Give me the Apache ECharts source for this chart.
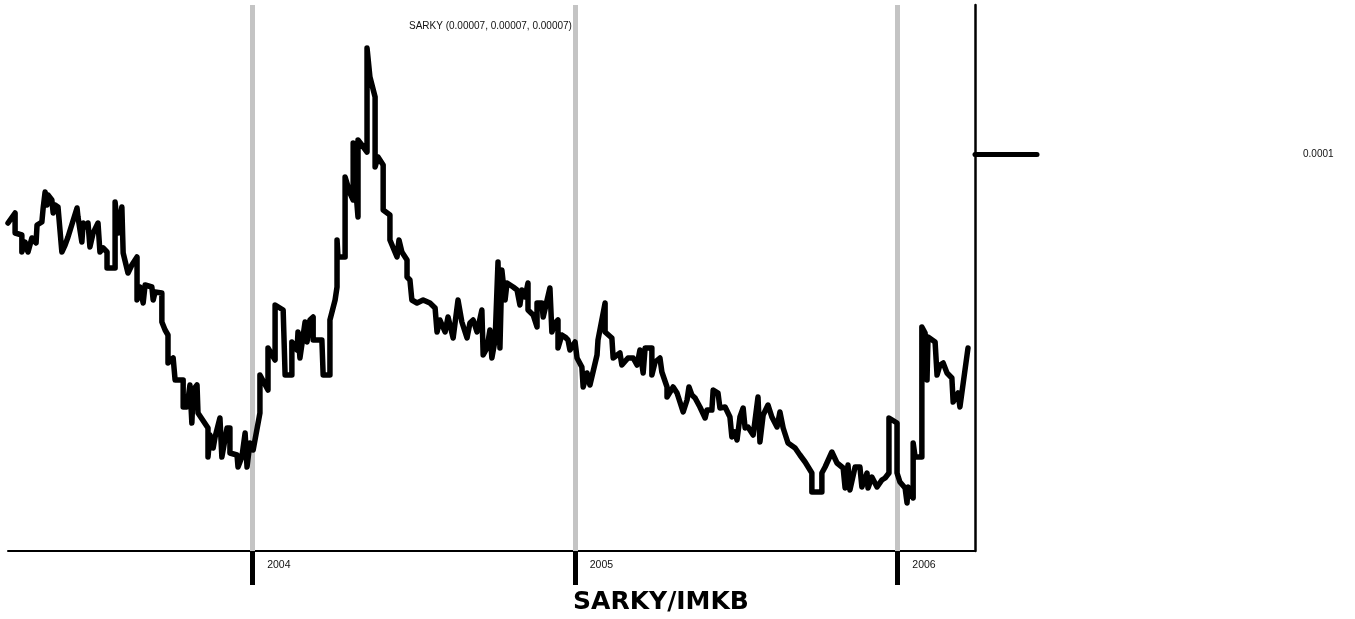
<!DOCTYPE html>
<html><head><meta charset="utf-8">
<script src="https://cdn.jsdelivr.net/npm/echarts@6/dist/echarts.min.js"></script>
<style>html,body{margin:0;padding:0;background:#fff}#c{width:1355px;height:619px}</style>
</head><body><div id="c"></div>
<script>
// ---- data ----
const titleText = 'SARKY (0.00007, 0.00007, 0.00007)';
const footerText = 'SARKY/IMKB';
const yearTicks = [2004, 2005, 2006];
const priceTicks = [0.0001];
const priceTickLabels = ['0.0001'];
const xMin = 2003.243, xMax = 2006.2407;   // date range shown (decimal years)
const yMin = 0.00004045, yMax = 0.00012235; // price range shown
const priceUnit = 1e-7;                     // prices below are in units of 1e-7

// dates of the line's vertices, as decimal years
const dates = [
2003.243,2003.265,2003.265,2003.286,2003.286,2003.296,2003.305,2003.317,2003.330,2003.333,
2003.348,2003.352,2003.358,2003.364,2003.367,2003.379,2003.383,2003.389,2003.398,2003.410,
2003.420,2003.429,2003.457,2003.460,2003.472,2003.476,2003.488,2003.491,2003.497,2003.507,
2003.522,2003.528,2003.538,2003.550,2003.550,2003.575,2003.575,2003.584,2003.596,2003.600,
2003.615,2003.627,2003.643,2003.643,2003.652,2003.662,2003.668,2003.689,2003.693,2003.699,
2003.720,2003.720,2003.730,2003.739,2003.739,2003.755,2003.761,2003.786,2003.786,2003.798,
2003.807,2003.813,2003.817,2003.829,2003.832,2003.863,2003.863,2003.869,2003.879,2003.885,
2003.900,2003.906,2003.922,2003.931,2003.931,2003.953,2003.956,2003.968,2003.978,2003.984,
2003.993,2004.003,2004.024,2004.024,2004.049,2004.049,2004.071,2004.071,2004.096,2004.102,
2004.123,2004.123,2004.139,2004.142,2004.148,2004.164,2004.170,2004.179,2004.189,2004.189,
2004.216,2004.220,2004.241,2004.241,2004.257,2004.263,2004.263,2004.266,2004.288,2004.288,
2004.303,2004.313,2004.313,2004.322,2004.328,2004.328,2004.340,2004.356,2004.356,2004.365,
2004.381,2004.381,2004.390,2004.406,2004.406,2004.427,2004.427,2004.449,2004.455,2004.464,
2004.480,2004.480,2004.489,2004.495,2004.511,2004.530,2004.551,2004.567,2004.573,2004.582,
2004.598,2004.607,2004.623,2004.638,2004.650,2004.666,2004.675,2004.685,2004.697,2004.712,
2004.716,2004.728,2004.737,2004.743,2004.753,2004.762,2004.768,2004.774,2004.784,2004.790,
2004.809,2004.821,2004.830,2004.836,2004.846,2004.855,2004.855,2004.871,2004.883,2004.883,
2004.898,2004.902,2004.923,2004.929,2004.939,2004.948,2004.948,2004.960,2004.970,2004.979,
2004.985,2005.001,2005.007,2005.022,2005.026,2005.038,2005.047,2005.069,2005.072,2005.094,
2005.094,2005.115,2005.119,2005.140,2005.146,2005.165,2005.181,2005.193,2005.202,2005.212,
2005.218,2005.239,2005.239,2005.249,2005.264,2005.270,2005.286,2005.286,2005.305,2005.317,
2005.336,2005.348,2005.354,2005.363,2005.373,2005.388,2005.404,2005.410,2005.425,2005.429,
2005.444,2005.450,2005.466,2005.481,2005.487,2005.497,2005.503,2005.512,2005.522,2005.528,
2005.537,2005.553,2005.568,2005.574,2005.584,2005.599,2005.611,2005.627,2005.636,2005.646,
2005.661,2005.683,2005.698,2005.714,2005.735,2005.735,2005.766,2005.766,2005.776,2005.797,
2005.813,2005.832,2005.838,2005.847,2005.853,2005.869,2005.884,2005.890,2005.906,2005.909,
2005.921,2005.937,2005.952,2005.962,2005.974,2005.974,2005.999,2005.999,2006.008,2006.024,
2006.030,2006.033,2006.049,2006.049,2006.055,2006.076,2006.076,2006.086,2006.092,2006.095,
2006.117,2006.123,2006.132,2006.142,2006.154,2006.169,2006.173,2006.188,2006.194,2006.219
];

// SARKY/IMKB ratio at those dates, in units of 1e-7
const prices = [
896.5,911.5,881.5,878.5,853,868,853,874,866.5,893.5,
898,919,943,923.5,938.5,931,911.5,923.5,920.5,853,
863.5,875.5,919,905.5,868,896.5,890.5,896.5,860.5,881.5,
896.5,853,859,853,829,829,928,881.5,920.5,851.5,
821.5,833.5,845.5,781,800.5,776.5,803.5,800.5,781,793,
791.5,748,736,728.5,686.5,694,661,661,620.5,620.5,
653.5,596.5,646,653.5,611.5,589,545.5,578.5,559,575.5,
604,545.5,589,589,551.5,548.5,530.5,545.5,581.5,530.5,
566.5,556,611.5,668.5,646,709,691,773.5,766,668.5,
668.5,718,706,733,694,748,718,751,755.5,721,
721,668.5,668.5,751,781,800.5,871,845.5,845.5,965.5,
941.5,931,1016.5,941.5,905.5,1021,1013.5,1003,1159,1115.5,
1085.5,980.5,995.5,983.5,916,908.5,871,845.5,871,853,
841,815.5,811,781,776.5,781,776.5,769,733,751,
733,755.5,724,781,748,724,746.5,751,733,766,
698.5,709,736,694,721,838,709,826,781,806.5,
800.5,796,773.5,796,785.5,806.5,766,758.5,740.5,776.5,
776.5,755.5,799,733,746.5,751,709,728.5,725.5,721,
706,718,694,680.5,650.5,671.5,653.5,698.5,721,776.5,
733,724,694,701.5,683.5,694,694,683.5,706,671.5,
709,709,668.5,688,694,673,650.5,635.5,650.5,641.5,
613,631,650.5,638.5,634,620.5,604,616,616,646,
641.5,619,620.5,605.5,575.5,583,571,605.5,619,589,
590.5,578.5,635.5,568,608.5,623.5,605.5,590.5,613,589,
566.5,559,548.5,538,521.5,493,493,521.5,530.5,553,
536.5,529,499,533.5,496,530.5,530.5,500.5,521.5,499,
515.5,500.5,511,514,521.5,604,596.5,521.5,508,499,
476.5,500.5,484,566.5,545.5,545.5,740.5,731.5,661,725.5,
718,668.5,683.5,686.5,671.5,664,628,641.5,620.5,709
];

// ---- chart ----
const chart = echarts.init(document.getElementById('c'), null, {renderer: 'canvas'});
const lineData = dates.map((d, i) => [d, prices[i] * priceUnit]);

const option = {
  animation: false,
  backgroundColor: '#ffffff',
  grid: {left: 8, right: 380, top: 5, bottom: 68, containLabel: false},
  title: {
    text: titleText, left: 409, top: 21, padding: 0,
    textStyle: {fontFamily: '"Liberation Sans", Arial, sans-serif', fontSize: 10, fontWeight: 'normal', color: '#111'}
  },
  graphic: [{
    type: 'text', x: 661, y: 602, silent: true,
    style: {text: footerText, font: 'bold 25px "DejaVu Sans", Verdana, sans-serif', fill: '#000',
            textAlign: 'center', textVerticalAlign: 'middle'}
  }],
  xAxis: {
    type: 'value', min: xMin, max: xMax, position: 'bottom',
    axisLine: {show: true, onZero: false, lineStyle: {color: '#000', width: 2}},
    axisTick: {show: true, customValues: yearTicks, length: 34, lineStyle: {color: '#000', width: 5}},
    axisLabel: {show: true, customValues: yearTicks, formatter: v => String(Math.round(v)),
      align: 'left', verticalAlign: 'top', margin: 9, padding: [0, 0, 0, 15],
      fontFamily: '"Liberation Sans", Arial, sans-serif', fontSize: 10.5, color: '#111'},
    splitLine: {show: false}
  },
  yAxis: {
    type: 'value', position: 'right', min: yMin, max: yMax,
    axisLine: {show: true, onZero: false, lineStyle: {color: '#000', width: 2.5}},
    axisTick: {show: true, customValues: priceTicks, length: 62, lineStyle: {color: '#000', width: 5, cap: 'round'}},
    axisLabel: {show: true, customValues: priceTicks, formatter: (v) => priceTickLabels[0],
      align: 'left', margin: 328, fontFamily: '"Liberation Sans", Arial, sans-serif', fontSize: 10, color: '#111'},
    splitLine: {show: false}
  },
  series: [
    {
      type: 'line', data: [], z: 1, silent: true,
      markLine: {
        silent: true, symbol: 'none', animation: false, z: 1,
        label: {show: false},
        lineStyle: {color: '#c4c4c4', width: 5, type: 'solid'},
        data: yearTicks.map(v => ({xAxis: v}))
      }
    },
    {
      type: 'line', data: lineData, z: 3, showSymbol: false, symbol: 'none', silent: true,
      lineStyle: {color: '#000', width: 5.5, cap: 'round', join: 'round'}
    }
  ]
};
chart.setOption(option);
</script>
</body></html>
